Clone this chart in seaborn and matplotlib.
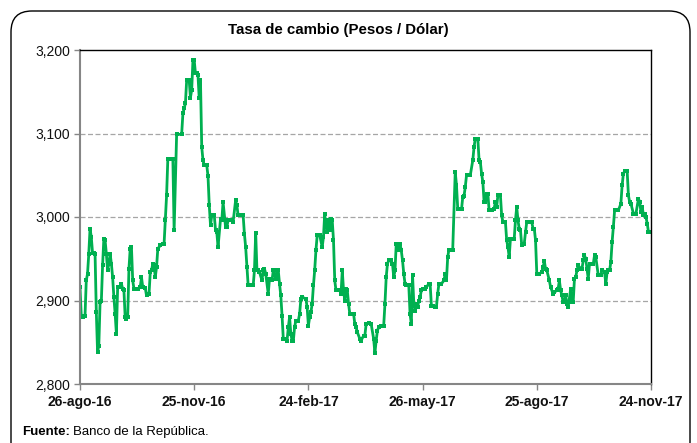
import numpy as np
import pandas as pd
import matplotlib
matplotlib.use("Agg")
import matplotlib.pyplot as plt
import seaborn as sns
from matplotlib.patches import FancyBboxPatch

# ---------------- data ----------------
start_date = "2016-08-26"
day_offsets = [
    0,1,2,4,5,6,7,8,9,10,11,12,13,14,15,16,17,18,19,20,21,22,23,24,25,26,27,28,29,30,
    32,33,34,35,36,37,38,39,40,41,42,43,46,48,49,50,52,53,55,56,57,58,59,60,61,62,64,66,67,68,
    69,70,73,74,
    75,77,81,82,83,84,85,87,88,89,90,91,92,93,94,95,96,97,98,99,101,102,103,104,105,106,107,108,109,110,
    112,113,114,116,117,118,120,121,122,124,125,126,128,130,131,132,133,134,136,138,139,140,141,142,143,145,146,147,148,
    150,151,153,154,156,157,158,159,160,161,162,163,165,166,167,168,169,170,171,172,174,175,176,177,180,181,182,183,184,185,
    186,187,188,189,191,193,194,195,196,197,198,199,200,201,202,203,204,207,208,209,210,211,212,213,214,215,217,218,219,220,
    221,223,224,
    226,227,228,230,232,234,235,236,237,238,240,242,243,244,245,246,248,249,250,251,252,253,254,255,256,257,258,259,260,262,
    263,264,265,266,267,268,269,270,271,272,273,275,276,278,279,280,281,283,284,285,286,288,290,291,292,293,294,296,297,
    299,300,301,302,304,305,306,307,308,309,311,313,314,315,317,318,319,320,321,322,323,324,325,326,327,328,330,331,332,333,
    335,336,337,338,339,340,341,342,343,345,346,347,348,349,350,351,352,354,355,356,357,359,360,361,362,363,364,366,368,369,
    370,371,372,374,
    375,377,378,380,381,382,383,384,385,386,387,388,389,391,392,393,394,395,396,397,399,400,401,402,403,404,405,406,407,409,
    410,411,413,415,416,418,419,420,421,422,423,424,425,426,427,429,431,432,433,434,436,437,438,439,441,442,443,445,446,447,
    448,449,450,451,452,453,455,
]
tasa = [
    2916,2882,2880,2882,2924,2932,2956,2986,2976,2957,2957,2956,2886,2838,2846,2898,2899,2942,2974,2972,
    2956,2936,2944,2956,2944,2928,2904,2884,2860,2916,2916,2920,2914,2912,2880,2878,2880,2938,2962,2964,
    2924,2914,2914,2916,2928,2916,2915,2906,2908,2934,2936,2944,2942,2928,2940,2962,2966,2968,2968,2996,
    3026,3070,3070,3070,
    2984,3099,3099,3124,3130,3136,3164,3164,3143,3152,3188,3188,3172,3172,3170,3142,3164,3084,3068,3062,
    3062,3049,3014,2990,3002,3002,3002,2984,2982,2964,2998,2996,3018,2988,2988,2996,2996,2996,2994,3020,
    3014,3002,3002,3002,2980,2964,2940,2918,2918,2918,2936,2981,2936,2936,2934,2924,2936,2938,2932,
    2908,2926,2924,2936,2926,2936,2936,2920,2906,2882,2854,2854,2852,2868,2880,2860,2852,2852,2868,2876,
    2876,2884,2902,2904,2902,2892,2870,2880,2886,2896,2918,2936,2960,2978,2978,2964,2976,3004,2990,2982,
    2996,2984,2998,2996,2972,2924,2912,2912,2908,2936,2912,2900,2914,2912,2896,2884,2884,2884,2872,2868,
    2862,2854,2852,
    2858,2858,2872,2873,2872,2854,2837,2852,2864,2868,2870,2870,2896,2928,2944,2948,2948,2944,2928,2936,
    2968,2960,2964,2968,2960,2948,2932,2920,2918,2918,2884,2872,2930,2896,2888,2896,2892,2900,2904,2912,
    2914,2914,2916,2920,2920,2894,2894,2892,2892,2908,2920,2920,2924,2932,2924,2952,2961,2961,2961,
    3054,3038,3010,3009,3009,3024,3025,3036,3050,3050,3050,3068,3084,3094,3094,3068,3066,3052,3042,3018,
    3018,3028,3028,3008,3008,3008,3010,3018,3012,3026,3026,3002,2994,2994,2994,2972,2964,2952,2974,2974,
    2974,2996,3012,2996,2986,2984,2966,2968,2982,2994,2994,2994,2994,2986,2986,2972,2932,2932,2934,2940,
    2947,2938,2936,2924,
    2916,2908,2910,2912,2914,2924,2912,2906,2898,2898,2906,2896,2892,2914,2898,2898,2926,2928,2936,2942,
    2938,2938,2948,2954,2950,2938,2926,2944,2944,2944,2954,2952,2930,2930,2937,2934,2920,2934,2936,2936,
    2946,2970,2988,3008,3008,3008,3016,3038,3052,3055,3055,3026,3018,3016,3004,3004,3004,3022,3018,3006,
    3012,3002,3004,3000,2992,2982,2982,
]
tick_dates = ["2016-08-26", "2016-11-25", "2017-02-24", "2017-05-26", "2017-08-25", "2017-11-24"]
tick_labels = ["26-ago-16", "25-nov-16", "24-feb-17", "26-may-17", "25-ago-17", "24-nov-17"]
y_ticks = [2800, 2900, 3000, 3100, 3200]
y_labels = ["2,800", "2,900", "3,000", "3,100", "3,200"]
title = "Tasa de cambio (Pesos / Dólar)"

assert len(day_offsets) == len(tasa)

fechas = pd.Timestamp(start_date) + pd.to_timedelta(day_offsets, unit="D")
df = pd.DataFrame({"fecha": fechas, "tasa": tasa})

# ---------------- style ----------------
sns.set_theme(style="white")
plt.rcParams["font.family"] = ["Liberation Sans", "DejaVu Sans"]

W, H = 697, 443
fig = plt.figure(figsize=(W / 100, H / 100), dpi=100)
ax = fig.add_axes([80 / W, 1 - 384 / H, (651 - 80) / W, (384 - 50) / H])

green = "#00B050"
sns.lineplot(data=df, x="fecha", y="tasa", ax=ax, color=green, linewidth=2.0,
             marker="s", markersize=2.6, markeredgewidth=0, markerfacecolor=green)

ax.set_xlim(pd.Timestamp(tick_dates[0]), pd.Timestamp(tick_dates[-1]))
ax.set_ylim(y_ticks[0], y_ticks[-1])
ax.set_xticks(pd.to_datetime(tick_dates))
ax.set_xticklabels(tick_labels, fontsize=10, fontweight="bold", color="#111111")
ax.set_yticks(y_ticks)
ax.set_yticklabels(y_labels, fontsize=10, color="#111111")
ax.set_xlabel("")
ax.set_ylabel("")

for v in y_ticks[1:-1]:
    ax.axhline(v, color="#a6a6a6", linestyle=(0, (4, 2)), linewidth=0.9, zorder=0)

for s in ["top", "right"]:
    ax.spines[s].set_color("#000000")
    ax.spines[s].set_linewidth(1.0)
for s in ["left", "bottom"]:
    ax.spines[s].set_color("#868686")
    ax.spines[s].set_linewidth(1.5)

ax.tick_params(axis="both", which="major", direction="out", length=4, width=1,
               color="#868686", pad=3, left=True, bottom=True)
ax.tick_params(axis="x", pad=4)

fig.text(0.485, 1 - 30 / H, title, ha="center", va="center", fontsize=10.8, fontweight="bold",
         color="#000000")

# footer
t1 = fig.text(22 / W, 1 - 432 / H, "Fuente:", ha="left", va="center", fontsize=9.5,
              fontweight="bold", color="#000000")
fig.canvas.draw()
bb = t1.get_window_extent()
fig.text((bb.x1 + 3) / W, 1 - 432 / H, "Banco de la República.", ha="left", va="center",
         fontsize=9.5, color="#000000")

# rounded outer border
box = FancyBboxPatch((11 / W, -20 / H), (690 - 11) / W, (H - 11 + 20) / H,
                     boxstyle="round,pad=0,rounding_size=0.03", transform=fig.transFigure,
                     facecolor="none", edgecolor="#000000", linewidth=1.0, clip_on=False,
                     mutation_aspect=W / H)
fig.patches.append(box)

fig.savefig("out.png", dpi=100)
